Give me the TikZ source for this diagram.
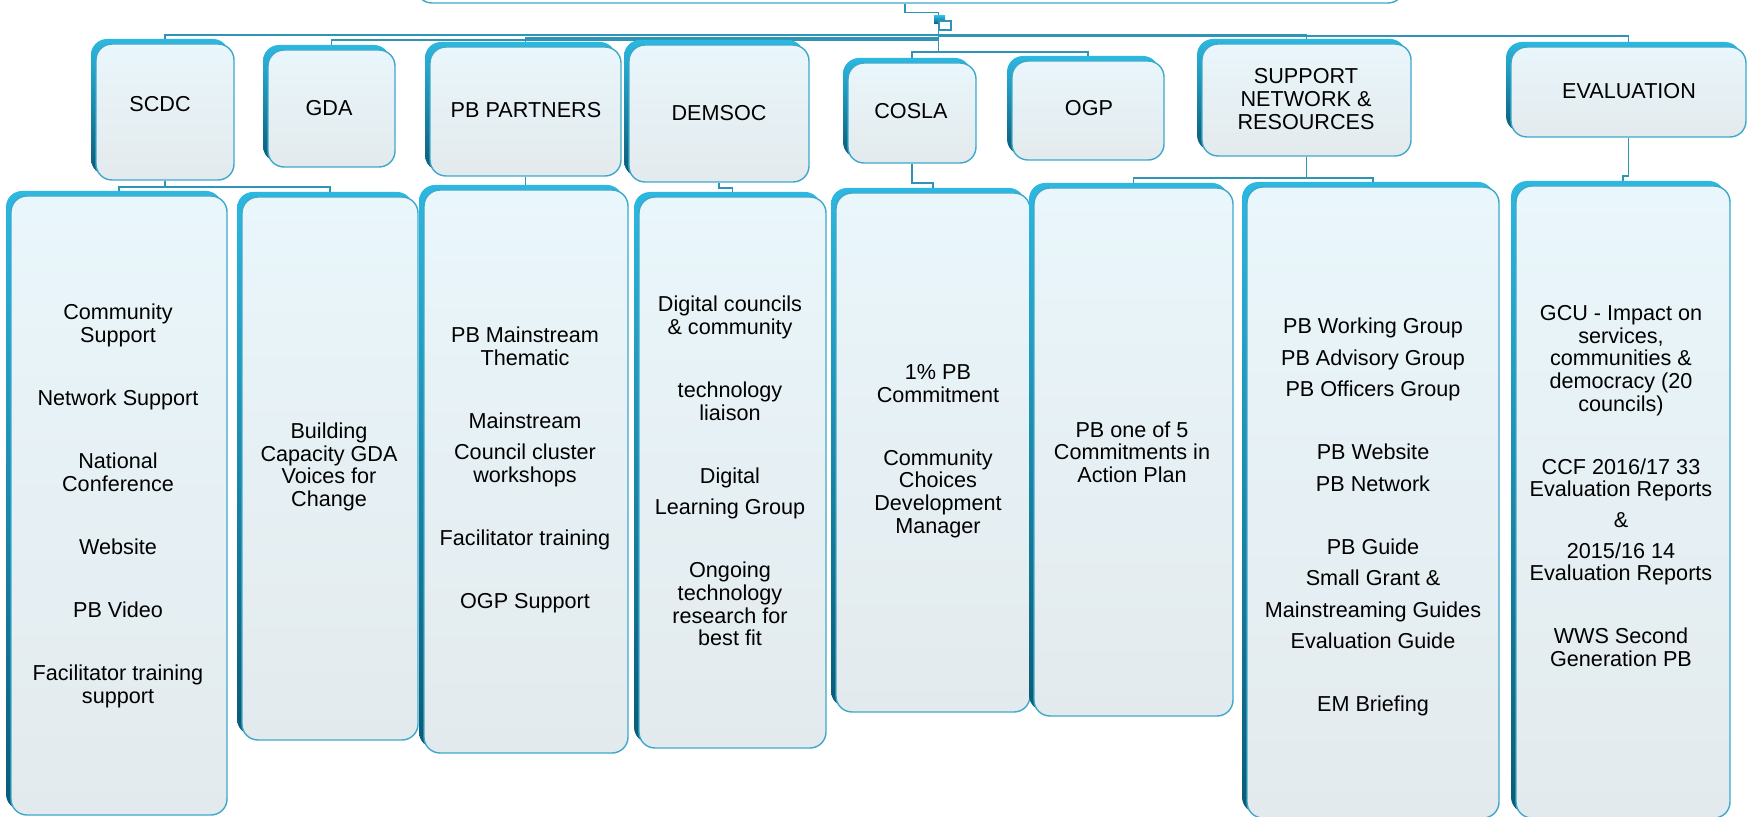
\documentclass[tikz,border=0pt]{standalone}
\usepackage{fontspec}
\setmainfont{Liberation Sans}
\usetikzlibrary{fit,backgrounds}

\definecolor{linec}{HTML}{2F94B5}
\definecolor{edgec}{HTML}{3DA8C9}
\definecolor{facetop}{HTML}{E9F6FB}
\definecolor{facebot}{HTML}{E3EAED}
\definecolor{rimtop}{HTML}{2CB8E1}
\definecolor{rimbot}{HTML}{0A5A75}

\begin{document}
\begin{tikzpicture}[x=0.02cm,y=-0.02cm,
    box/.style={draw=edgec,line width=0.8pt,rounded corners=0.32cm,inner sep=0pt,
      top color=facetop,bottom color=facebot,
      preaction={draw=none,top color=rimtop,bottom color=rimbot,
        transform canvas={shift={(-5,-5)}}}},
    txt/.style={align=center,inner sep=0pt,font=\fontsize{12.3}{12.9}\selectfont},
    conn/.style={draw=linec,line width=0.8pt}]
  \useasboundingbox (0,0) rectangle (1747,817);

  % head of the chart, cut off by the page
  \node[draw=edgec,line width=0.8pt,rounded corners=0.32cm,fill=white,inner sep=0pt,
    fit={(416,-60) (1404,3)}] (root) {};
  \node[top color=rimtop,bottom color=rimbot,inner sep=0pt,fit={(934,16) (945,24)}] (hubd) {};
  \node[draw=linec,fill=white,line width=0.6pt,inner sep=0pt,fit={(939,21) (951,30)}] (hubw) {};
  \coordinate (hub) at (hubw.south west);

  % partners
  \node[box,fit={(96,44) (234,180)}] (scdc) {};
  \node[box,fit={(268,50) (395,167)}] (gda) {};
  \node[box,fit={(430,47) (621,176)}] (pbpart) {};
  \node[box,fit={(629,45) (809,182)}] (demsoc) {};
  \node[box,fit={(848,63) (976,163)}] (cosla) {};
  \node[box,fit={(1012,61) (1164,160)}] (ogp) {};
  \node[box,fit={(1202,44) (1411,156)}] (support) {};
  \node[box,fit={(1511,47) (1746,137)}] (evaluation) {};

  \node[txt] (scdclbl) at (160,104) {SCDC};
  \node[txt] (gdalbl) at (329,108) {GDA};
  \node[txt] (pbpartlbl) at (526,110) {PB PARTNERS};
  \node[txt] (demsoclbl) at (719,113) {DEMSOC};
  \node[txt] (coslalbl) at (911,111) {COSLA};
  \node[txt] (ogplbl) at (1089,108) {OGP};
  \node[txt] (supportlbl) at (1306,99) {SUPPORT\\NETWORK \&\\RESOURCES};
  \node[txt] (evaluationlbl) at (1629,91) {EVALUATION};

  % what each one does
  \node[box,fit={(11,196) (227,815)}] (scdcsup) {};
  \node[box,fit={(242,197) (418,740)}] (gdacap) {};
  \node[box,fit={(424,190) (628,753)}] (pbmain) {};
  \node[box,fit={(639,197) (826,748)}] (demdigital) {};
  \node[box,fit={(836,193) (1030,712)}] (coslapb) {};
  \node[box,fit={(1034,188) (1233,716)}] (ogpplan) {};
  \node[box,fit={(1247,187) (1499,818)}] (suppgroups) {};
  \node[box,fit={(1516,186) (1730,818)}] (evalrep) {};

  \node[txt] (scdcsuplbl) at (118,506) {Community\\Support\\[23pt]Network Support\\[23pt]National\\Conference\\[23pt]Website\\[23pt]PB Video\\[23pt]Facilitator training\\support};
  \node[txt] (gdacaplbl) at (329,467) {Building\\Capacity GDA\\Voices for\\Change};
  \node[txt] (pbmainlbl) at (525,470) {PB Mainstream\\Thematic\\[23pt]Mainstream\\[5pt]Council cluster\\workshops\\[23pt]Facilitator training\\[23pt]OGP Support};
  \node[txt] (demdigitallbl) at (730,471) {Digital councils\\\& community\\[23pt]technology\\liaison\\[23pt]Digital\\[5pt]Learning Group\\[23pt]Ongoing\\technology\\research for\\best fit};
  \node[txt] (coslapblbl) at (938,451) {1\% PB\\Commitment\\[23pt]Community\\Choices\\Development\\Manager};
  \node[txt] (ogpplanlbl) at (1132,452) {PB one of 5\\Commitments in\\Action Plan};
  \node[txt] (suppgroupslbl) at (1373,517) {PB Working Group\\[5pt]PB Advisory Group\\[5pt]PB Officers Group\\[23pt]PB Website\\[5pt]PB Network\\[23pt]PB Guide\\[5pt]Small Grant \&\\[5pt]Mainstreaming Guides\\[5pt]Evaluation Guide\\[23pt]EM Briefing};
  \node[txt] (evalreplbl) at (1621,486) {GCU - Impact on\\services,\\communities \&\\democracy (20\\councils)\\[23pt]CCF 2016/17 33\\Evaluation Reports\\[4.5pt]\&\\[4.5pt]2015/16 14\\Evaluation Reports\\[23pt]WWS Second\\Generation PB};

  \begin{scope}[on background layer]
    \draw[conn] ([xshift=-0.1cm]root.south) -- ++(0,9) -| (hub |- hubd.north);
    \draw[conn] (hub) |- (scdc.north |- 0,35) -- (scdc.north);
    \draw[conn] (hub) |- (gda.north |- 0,40) -- (gda.north);
    \draw[conn] (hub) |- (pbpart.north |- 0,38) -- (pbpart.north);
    \draw[conn] (hub) |- (demsoc.north |- 0,38) -- (demsoc.north);
    \draw[conn] (hub) |- (cosla.north |- 0,52) -- (cosla.north);
    \draw[conn] (hub) |- (ogp.north |- 0,52) -- (ogp.north);
    \draw[conn] (hub) |- (support.north |- 0,35) -- (support.north);
    \draw[conn] (hub) |- (evaluation.north |- 0,36) -- (evaluation.north);
    % second level
    \draw[conn] (scdc.south) |- (scdcsup.north |- 0,187) -- (scdcsup.north);
    \draw[conn] (scdc.south) |- (gdacap.north |- 0,187) -- (gdacap.north);
    \draw[conn] (pbpart.south) -- (pbpart.south |- pbmain.north);
    \draw[conn] (demsoc.south) |- (demdigital.north |- 0,188) -- (demdigital.north);
    \draw[conn] (cosla.south) |- (coslapb.north |- 0,183) -- (coslapb.north);
    \draw[conn] (support.south) |- (ogpplan.north |- 0,178) -- (ogpplan.north);
    \draw[conn] (support.south) |- (suppgroups.north |- 0,178) -- (suppgroups.north);
    \draw[conn] (evaluation.south) |- (evalrep.north |- 0,176) -- (evalrep.north);
  \end{scope}
\end{tikzpicture}
\end{document}
